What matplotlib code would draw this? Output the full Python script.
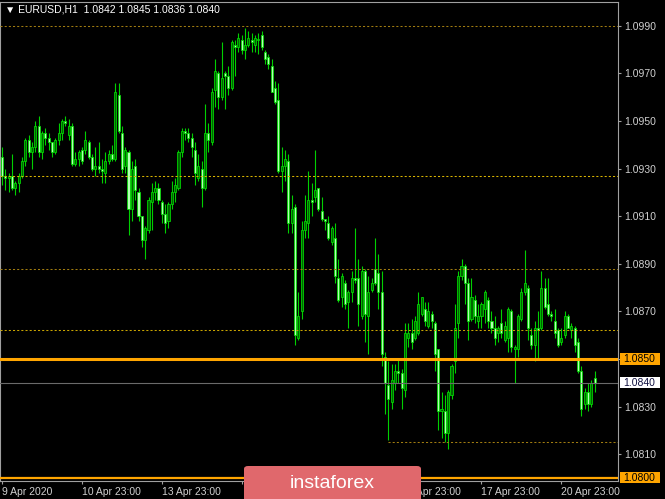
import numpy as np
import matplotlib
matplotlib.use("Agg")
import matplotlib.pyplot as plt
from matplotlib.patches import Rectangle, FancyBboxPatch
from matplotlib.transforms import blended_transform_factory

# ---------------- data (EURUSD H1) ----------------
opens = [1.0935,1.0927,1.0926,1.0927,1.0922,1.0924,1.0927,1.0933,1.0942,1.0937,
         1.0939,1.0948,1.0937,1.0945,1.0943,1.0941,1.0937,1.0942,1.0945,1.0950,
         1.0944,1.0948,1.0932,1.0934,1.0938,1.0938,1.0941,1.0935,1.0930,1.0931,
         1.0930,1.0928,1.0933,1.0936,1.0934,1.0961,1.0945,1.0931,1.0937,1.0913,
         1.0931,1.0920,1.0910,1.0900,1.0904,1.0916,1.0920,1.0922,1.0916,1.0911,
         1.0908,1.0915,1.0920,1.0922,1.0937,1.0946,1.0945,1.0943,1.0938,1.0926,
         1.0930,1.0922,1.0945,1.0941,1.0963,1.0970,1.0960,1.0970,1.0969,1.0964,
         1.0982,1.0981,1.0984,1.0980,1.0982,1.0984,1.0982,1.0984,1.0986,1.0979,
         1.0977,1.0973,1.0964,1.0959,1.0929,1.0931,1.0933,1.0907,1.0914,1.0859,
         1.0870,1.0904,1.0907,1.0917,1.0918,1.0922,1.0912,1.0909,1.0907,1.0899,
         1.0901,1.0884,1.0876,1.0882,1.0874,1.0878,1.0884,1.0884,1.0868,1.0887,
         1.0868,1.0879,1.0888,1.0886,1.0878,1.0851,1.0839,1.0832,1.0840,1.0845,
         1.0844,1.0837,1.0859,1.0861,1.0859,1.0861,1.0869,1.0871,1.0864,1.0869,
         1.0865,1.0854,1.0828,1.0828,1.0819,1.0835,1.0849,1.0865,1.0885,1.0889,
         1.0882,1.0867,1.0875,1.0866,1.0868,1.0871,1.0875,1.0866,1.0863,1.0861,
         1.0865,1.0858,1.0859,1.0870,1.0854,1.0854,1.0867,1.0878,1.0880,1.0860,
         1.0856,1.0863,1.0863,1.0880,1.0873,1.0869,1.0866,1.0862,1.0857,1.0860,
         1.0868,1.0862,1.0863,1.0857,1.0845,1.0831,1.0836,1.0831,1.0842]
highs = [1.0939,1.0930,1.0928,1.0936,1.0925,1.0928,1.0935,1.0943,1.0944,1.0941,
         1.0950,1.0952,1.0946,1.0947,1.0945,1.0941,1.0943,1.0949,1.0951,1.0952,
         1.0951,1.0949,1.0937,1.0938,1.0939,1.0946,1.0942,1.0936,1.0939,1.0941,
         1.0934,1.0937,1.0938,1.0940,1.0966,1.0966,1.0948,1.0939,1.0938,1.0933,
         1.0934,1.0922,1.0910,1.0906,1.0918,1.0924,1.0925,1.0924,1.0917,1.0915,
         1.0916,1.0925,1.0926,1.0938,1.0947,1.0947,1.0947,1.0945,1.0941,1.0936,
         1.0933,1.0957,1.0949,1.0964,1.0976,1.0971,1.0983,1.0971,1.0973,1.0984,
         1.0984,1.0987,1.0986,1.0989,1.0988,1.0987,1.0986,1.0987,1.0988,1.0980,
         1.0978,1.0976,1.0967,1.0966,1.0939,1.0938,1.0936,1.0919,1.0915,1.0878,
         1.0908,1.0919,1.0929,1.0924,1.0938,1.0922,1.0918,1.0909,1.0910,1.0906,
         1.0907,1.0892,1.0886,1.0883,1.0879,1.0887,1.0905,1.0892,1.0889,1.0888,
         1.0885,1.0884,1.0901,1.0894,1.0887,1.0853,1.0849,1.0848,1.0848,1.0850,
         1.0846,1.0865,1.0865,1.0867,1.0868,1.0878,1.0876,1.0874,1.0874,1.0870,
         1.0866,1.0854,1.0836,1.0835,1.0837,1.0848,1.0873,1.0887,1.0892,1.0890,
         1.0884,1.0884,1.0877,1.0873,1.0874,1.0879,1.0876,1.0870,1.0868,1.0864,
         1.0871,1.0866,1.0872,1.0871,1.0856,1.0869,1.0880,1.0896,1.0881,1.0863,
         1.0866,1.0870,1.0887,1.0884,1.0884,1.0870,1.0871,1.0863,1.0863,1.0870,
         1.0869,1.0865,1.0864,1.0859,1.0847,1.0838,1.0840,1.0841,1.0845]
lows = [1.0923,1.0921,1.0920,1.0921,1.0919,1.0920,1.0926,1.0931,1.0935,1.0930,
        1.0937,1.0935,1.0934,1.0940,1.0938,1.0935,1.0936,1.0940,1.0942,1.0948,
        1.0942,1.0931,1.0931,1.0931,1.0932,1.0936,1.0934,1.0929,1.0927,1.0928,
        1.0924,1.0924,1.0932,1.0933,1.0933,1.0945,1.0928,1.0928,1.0902,1.0908,
        1.0917,1.0908,1.0897,1.0892,1.0903,1.0904,1.0917,1.0915,1.0907,1.0903,
        1.0905,1.0913,1.0916,1.0921,1.0935,1.0942,1.0941,1.0935,1.0923,1.0925,
        1.0914,1.0921,1.0937,1.0940,1.0956,1.0955,1.0959,1.0955,1.0961,1.0963,
        1.0969,1.0979,1.0978,1.0976,1.0981,1.0979,1.0979,1.0978,1.0980,1.0974,
        1.0972,1.0962,1.0957,1.0928,1.0920,1.0925,1.0903,1.0903,1.0856,1.0858,
        1.0867,1.0901,1.0901,1.0910,1.0916,1.0912,1.0908,1.0904,1.0900,1.0898,
        1.0882,1.0874,1.0872,1.0871,1.0863,1.0874,1.0882,1.0864,1.0867,1.0857,
        1.0852,1.0878,1.0881,1.0871,1.0847,1.0827,1.0816,1.0829,1.0837,1.0840,
        1.0829,1.0834,1.0855,1.0854,1.0858,1.0860,1.0868,1.0864,1.0863,1.0863,
        1.0845,1.0820,1.0817,1.0815,1.0812,1.0833,1.0844,1.0859,1.0883,1.0873,
        1.0858,1.0866,1.0865,1.0863,1.0863,1.0865,1.0863,1.0861,1.0856,1.0857,
        1.0859,1.0857,1.0853,1.0853,1.0840,1.0851,1.0866,1.0877,1.0858,1.0854,
        1.0849,1.0850,1.0862,1.0871,1.0868,1.0866,1.0859,1.0855,1.0856,1.0859,
        1.0863,1.0859,1.0853,1.0844,1.0826,1.0829,1.0828,1.0830,1.0836]
closes = [1.0927,1.0926,1.0927,1.0922,1.0924,1.0927,1.0933,1.0942,1.0937,1.0939,
          1.0948,1.0937,1.0945,1.0943,1.0941,1.0937,1.0942,1.0945,1.0950,1.0949,
          1.0948,1.0932,1.0934,1.0937,1.0933,1.0942,1.0935,1.0930,1.0931,1.0930,
          1.0929,1.0933,1.0936,1.0934,1.0962,1.0946,1.0930,1.0938,1.0913,1.0930,
          1.0921,1.0910,1.0900,1.0905,1.0917,1.0920,1.0922,1.0917,1.0911,1.0907,
          1.0915,1.0920,1.0923,1.0937,1.0946,1.0945,1.0943,1.0939,1.0928,1.0931,
          1.0922,1.0945,1.0942,1.0962,1.0971,1.0960,1.0968,1.0969,1.0964,1.0983,
          1.0981,1.0985,1.0980,1.0982,1.0985,1.0983,1.0985,1.0984,1.0981,1.0976,
          1.0974,1.0962,1.0958,1.0929,1.0931,1.0934,1.0907,1.0913,1.0860,1.0868,
          1.0904,1.0908,1.0917,1.0916,1.0921,1.0913,1.0909,1.0908,1.0901,1.0905,
          1.0885,1.0875,1.0885,1.0873,1.0878,1.0884,1.0883,1.0873,1.0887,1.0869,
          1.0878,1.0882,1.0882,1.0878,1.0852,1.0840,1.0833,1.0841,1.0845,1.0844,
          1.0838,1.0861,1.0861,1.0857,1.0866,1.0873,1.0876,1.0866,1.0870,1.0866,
          1.0852,1.0828,1.0829,1.0819,1.0836,1.0847,1.0863,1.0885,1.0889,1.0882,
          1.0866,1.0876,1.0868,1.0868,1.0873,1.0878,1.0866,1.0863,1.0859,1.0863,
          1.0861,1.0864,1.0871,1.0855,1.0855,1.0868,1.0878,1.0882,1.0863,1.0856,
          1.0863,1.0862,1.0880,1.0872,1.0869,1.0868,1.0861,1.0856,1.0859,1.0868,
          1.0863,1.0864,1.0856,1.0845,1.0829,1.0836,1.0831,1.0840,1.0840]

y_ticks = [1.0810, 1.0830, 1.0850, 1.0870, 1.0890, 1.0910, 1.0930, 1.0950, 1.0970, 1.0990]
x_tick_bars = [0, 24, 48, 72, 96, 120, 144, 168]
# labels of 14 and 15 Apr are fully hidden behind the logo in the reference
x_tick_labels = ["9 Apr 2020", "10 Apr 23:00", "13 Apr 23:00", "",
                 "", "16 Apr 23:00", "17 Apr 23:00", "20 Apr 23:00"]

dotted_levels = [1.0990, 1.0927, 1.0888, 1.0862]
dotted_colors = ["#a07c10", "#d8b400", "#a07c10", "#c8a400"]
short_level = 1.0815
short_level_start_bar = 116
orange_levels = [1.0850, 1.0800]
bid_level = 1.0840
title = "\u25bc EURUSD,H1  1.0842 1.0845 1.0836 1.0840"

# ---------------- figure ----------------
W, H = 665, 499
fig = plt.figure(figsize=(W / 100, H / 100), dpi=100, facecolor="black")
plt.rcParams['font.family'] = ['Liberation Sans', 'DejaVu Sans']

ax_left, ax_right, ax_top, ax_bottom = 0, 618, 2, 481
ax = fig.add_axes([ax_left / W, (H - ax_bottom) / H, (ax_right - ax_left) / W,
                   (ax_bottom - ax_top) / H])
ax.set_facecolor("black")

O = np.array(opens); Hh = np.array(highs); L = np.array(lows); C = np.array(closes)
x = np.arange(len(C))
up = C >= O

ax.vlines(x, L, Hh, color="#00d000", lw=0.8, zorder=2)
bottoms = np.minimum(O, C)
heights = np.maximum(np.abs(C - O), 0.00004)
ax.bar(x[up], heights[up], bottom=bottoms[up], width=0.62, color="#006400",
       edgecolor="#00e000", linewidth=0.55, zorder=3)
ax.bar(x[~up], heights[~up], bottom=bottoms[~up], width=0.62, color="#b4ffb4",
       edgecolor="#00e000", linewidth=0.55, zorder=3)

ax.set_xlim(-0.6, 185.0)
ax.set_ylim(1.0800 - 3 / 2.38 / 10000, 1.1000)

# horizontal levels
for lv, col in zip(dotted_levels, dotted_colors):
    ax.axhline(lv, color=col, lw=0.75, linestyle=(0, (2, 2)), zorder=4)
ax.hlines(short_level, short_level_start_bar, 185.0, color="#a07c10", lw=0.75,
          linestyle=(0, (2, 2)), zorder=4)
ax.axhline(orange_levels[0], color="#ffa500", lw=2.2, zorder=5)
ax.axhline(orange_levels[1], color="#ffa500", lw=1.6, zorder=5)
ax.axhline(bid_level, color="#6a6a6a", lw=0.8, zorder=5)

# spines
for s in ["left", "top", "right", "bottom"]:
    ax.spines[s].set_color("#a0a0a0")
    ax.spines[s].set_linewidth(0.8)

# axes ticks
ax.yaxis.tick_right()
ax.set_yticks(y_ticks)
ax.set_yticklabels([f"{v:.4f}" for v in y_ticks])
ax.tick_params(axis="y", colors="#a0a0a0", labelcolor="#d0d0d0", length=2.5,
               width=0.8, labelsize=7.5, pad=2)
ax.set_xticks(x_tick_bars)
ax.set_xticklabels(x_tick_labels)
ax.tick_params(axis="x", colors="#a0a0a0", labelcolor="#d0d0d0", length=2.5,
               width=0.8, labelsize=7.5, pad=1.5)
for lab in ax.get_xticklabels():
    lab.set_horizontalalignment("left")

# price boxes on the right
bt = blended_transform_factory(ax.transAxes, ax.transData)
box_w = 40 / (ax_right - ax_left)
box_h = 11 / 2.38 / 10000
for lv, fc, tc in [(orange_levels[0], "#ffa500", "#000000"),
                   (bid_level, "#ffffff", "#101040"),
                   (orange_levels[1], "#ffa500", "#000000")]:
    ax.add_patch(Rectangle((1 + 2 / 618, lv - box_h / 2), box_w, box_h,
                           transform=bt, facecolor=fc, edgecolor="none",
                           clip_on=False, zorder=10))
    ax.text(1 + 5 / 618, lv, f"{lv:.4f}", transform=bt, color=tc, fontsize=7.5,
            va="center", ha="left", clip_on=False, zorder=11)

# title
fig.text(5 / W, 1 - 10 / H, title, color="white", fontsize=7.5, va="center",
         ha="left")

# logo
logo = FancyBboxPatch((244 / W, -0.02), 177 / W, (499 - 466) / H + 0.02,
                      boxstyle="round,pad=0,rounding_size=0.006",
                      transform=fig.transFigure, facecolor="#e0686c",
                      edgecolor="none", zorder=20)
fig.add_artist(logo)
fig.text(332 / W, 1 - 483 / H, "instaforex", color="white", fontsize=14,
         ha="center", va="center", zorder=21)

fig.savefig("out.png", dpi=100, facecolor="black")
